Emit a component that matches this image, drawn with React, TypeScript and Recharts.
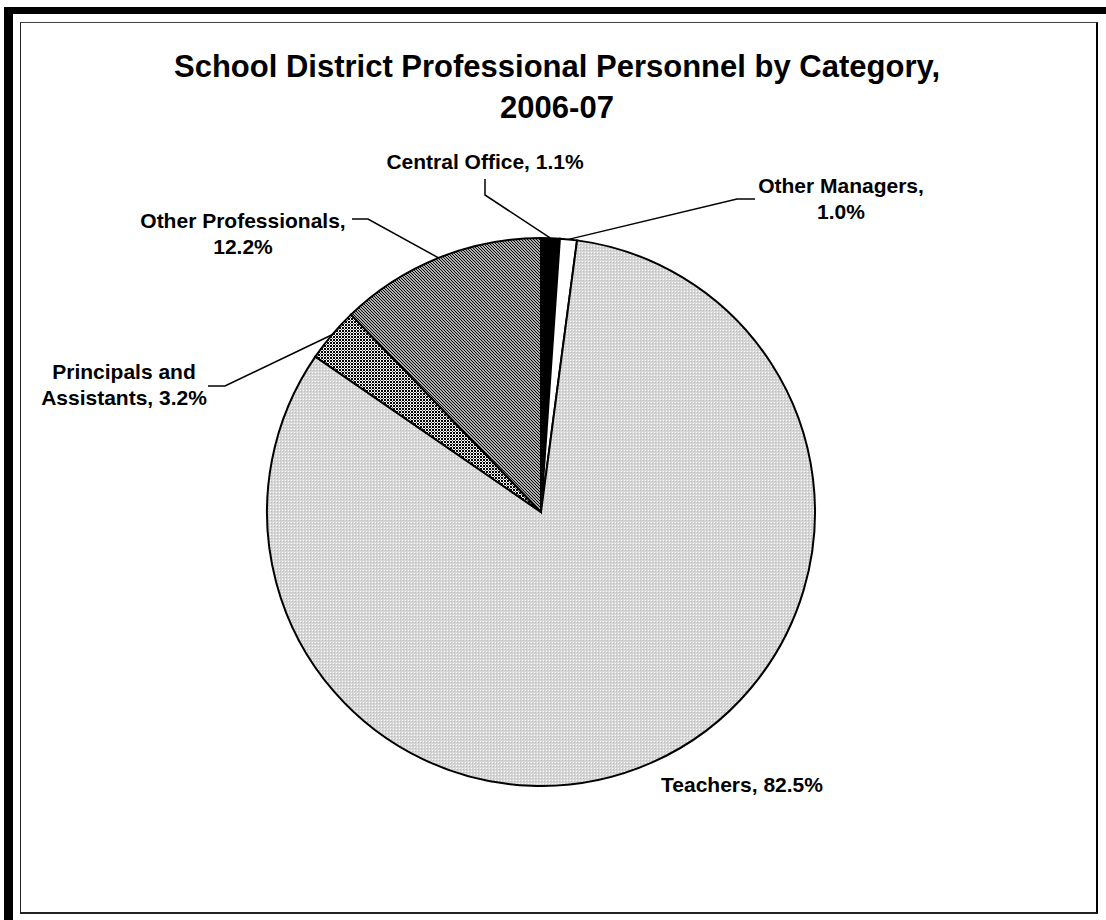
import { Cell, Pie, PieChart } from "recharts";

const CATEGORIES = ["Central Office", "Other Managers", "Teachers", "Principals and Assistants", "Other Professionals"];
const SHARES = [1.1, 1.0, 82.5, 3.2, 12.2];
const LABEL_TEXT = [
  ["Central Office, 1.1%"],
  ["Other Managers,", "1.0%"],
  ["Teachers, 82.5%"],
  ["Principals and", "Assistants, 3.2%"],
  ["Other Professionals,", "12.2%"],
];
const TITLE_LINES = ["School District Professional Personnel by Category,", "2006-07"];

const FILLS = ["#000000", "#ffffff", "url(#dots)", "url(#grid)", "url(#diag)"];

// where each label sits and how its leader bends (chart pixels)
const LABEL_LAYOUT: { x: number; y: number; bend: [number, number][] }[] = [
  { x: 485, y: 169, bend: [[485, 195], [485, 179]] },
  { x: 841, y: 193, bend: [[737, 199], [755, 199]] },
  { x: 742, y: 792, bend: [] },
  { x: 124, y: 379, bend: [[225, 386], [208, 386]] },
  { x: 243, y: 228, bend: [[368, 219], [352, 219]] },
];

const FONT = "'Liberation Sans', Arial, sans-serif";
const RADIAN = Math.PI / 180;
const LINE_GAP = 26;

const data = CATEGORIES.map((name, i) => ({ name, value: SHARES[i] }));

type LabelProps = {
  cx: number;
  cy: number;
  midAngle: number;
  outerRadius: number;
  index: number;
};

function SliceLabel({ cx, cy, midAngle, outerRadius, index }: LabelProps) {
  const layout = LABEL_LAYOUT[index];
  const ex = cx + outerRadius * Math.cos(-midAngle * RADIAN);
  const ey = cy + outerRadius * Math.sin(-midAngle * RADIAN);
  const pts = [[ex, ey], ...layout.bend].map((p) => p.join(",")).join(" ");
  return (
    <g>
      {layout.bend.length > 0 && <polyline points={pts} fill="none" stroke="#000" strokeWidth={1.5} />}
      <text
        x={layout.x}
        y={layout.y}
        textAnchor="middle"
        fontFamily={FONT}
        fontSize={21}
        fontWeight="bold"
        fill="#000"
      >
        {LABEL_TEXT[index].map((line, k) => (
          <tspan key={k} x={layout.x} y={layout.y + k * LINE_GAP}>
            {line}
          </tspan>
        ))}
      </text>
    </g>
  );
}

export default function App() {
  return (
    <div style={{ position: "absolute", left: 0, top: 0, width: 1106, height: 920, background: "#fff", overflow: "hidden" }}>
      {/* heavy frame on left and top */}
      <div style={{ position: "absolute", left: 4, top: 7, width: 9, height: 913, background: "#000" }} />
      <div style={{ position: "absolute", left: 4, top: 7, width: 1102, height: 7, background: "#000" }} />
      {/* plot box */}
      <div
        style={{
          position: "absolute",
          left: 20,
          top: 22,
          width: 1075,
          height: 889,
          borderLeft: "1px solid #222",
          borderTop: "1px solid #444",
          borderRight: "2px solid #000",
          borderBottom: "2px solid #222",
        }}
      />
      <PieChart width={1106} height={920} margin={{ top: 0, right: 0, bottom: 0, left: 0 }} style={{ position: "absolute", left: 0, top: 0 }}>
        <defs>
          <pattern id="dots" width={3} height={3} patternUnits="userSpaceOnUse">
            <rect width={3} height={3} fill="#d6d6d6" />
            <rect x={0} y={0} width={1} height={1} fill="#ffffff" />
            <rect x={1} y={1} width={1} height={1} fill="#bdbdbd" />
          </pattern>
          <pattern id="grid" width={3} height={3} patternUnits="userSpaceOnUse">
            <rect width={3} height={3} fill="#ffffff" />
            <rect x={0} y={0} width={2} height={2} fill="#000000" />
            <rect x={2} y={2} width={1} height={1} fill="#555555" />
          </pattern>
          <pattern id="diag" width={3} height={3} patternUnits="userSpaceOnUse">
            <rect width={3} height={3} fill="#ffffff" />
            <path d="M0,0 L3,3 M-1,2 L1,4 M2,-1 L4,1" stroke="#000" strokeWidth={1.2} />
          </pattern>
        </defs>
        <text x={557} y={77} textAnchor="middle" fontFamily={FONT} fontSize={31} fontWeight="bold" fill="#000">
          {TITLE_LINES[0]}
        </text>
        <text x={557} y={118} textAnchor="middle" fontFamily={FONT} fontSize={31} fontWeight="bold" fill="#000">
          {TITLE_LINES[1]}
        </text>
        <Pie
          data={data}
          dataKey="value"
          nameKey="name"
          cx={541}
          cy={512}
          outerRadius={274}
          startAngle={90}
          endAngle={-270}
          stroke="#000"
          strokeWidth={2}
          label={SliceLabel as any}
          labelLine={false}
          isAnimationActive={false}
        >
          {data.map((d, i) => (
            <Cell key={d.name} fill={FILLS[i]} />
          ))}
        </Pie>
      </PieChart>
    </div>
  );
}
